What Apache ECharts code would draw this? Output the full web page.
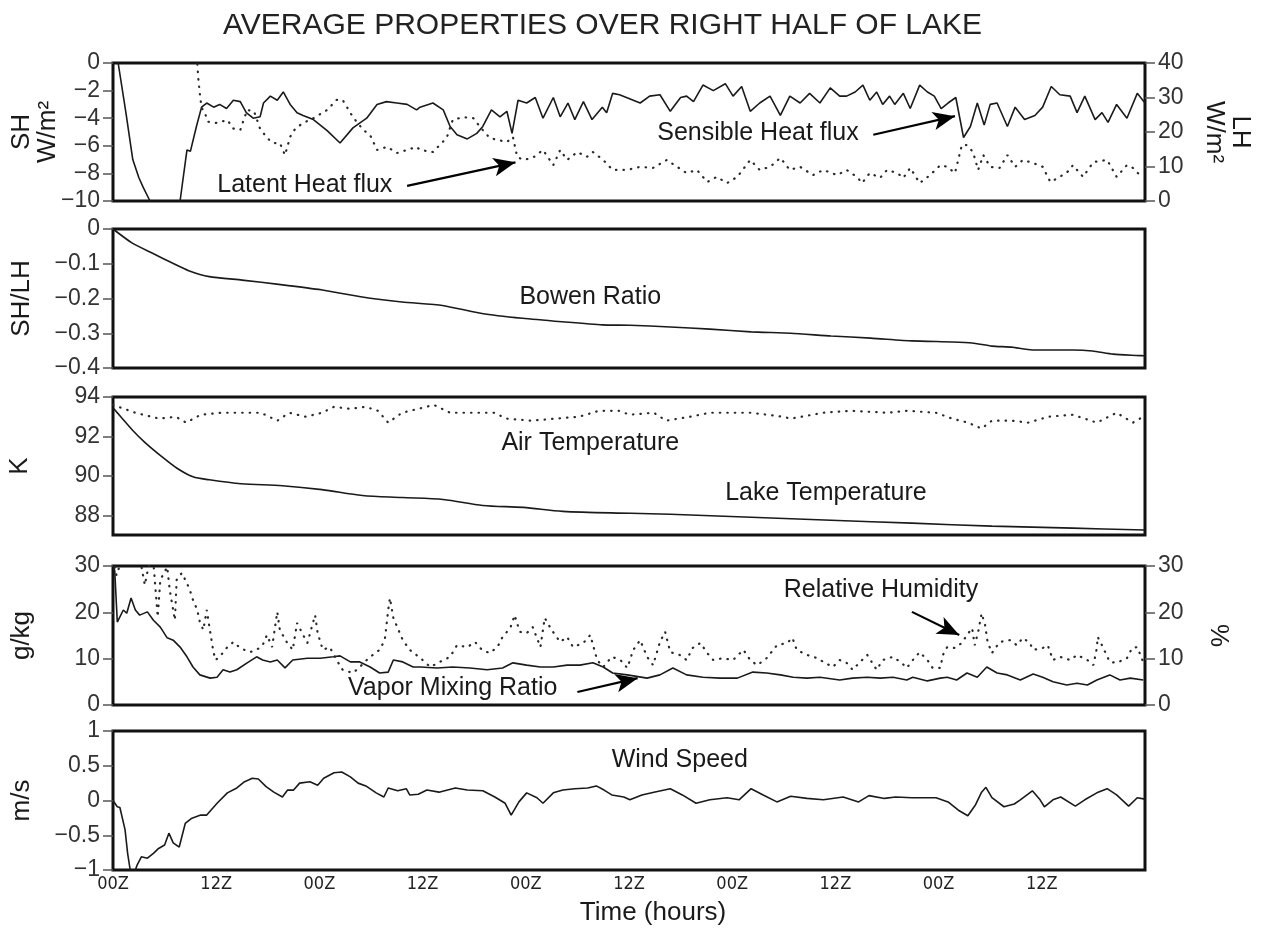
<!DOCTYPE html>
<html>
<head>
<meta charset="utf-8">
<script src="https://cdn.jsdelivr.net/npm/echarts@6/dist/echarts.min.js"></script>
<style>
  html, body { margin: 0; padding: 0; background: #fff; }
  #chart { width: 1261px; height: 936px; }
</style>
</head>
<body>
<div id="chart"></div>
<script>
// Time axis (hours since start), labelled in 12-hour steps
const timeTicks = [0, 12, 24, 36, 48, 60, 72, 84, 96, 108];
const timeTickLabels = ['00Z', '12Z', '00Z', '12Z', '00Z', '12Z', '00Z', '12Z', '00Z', '12Z'];

// Panel 1: sensible heat flux (W/m2, left axis) — [hour, value]
const sensibleHeat = [
  [0, 2.3], [0.6, 0], [1.5, -3.6], [2.3, -7.0], [3.0, -8.3], [3.5, -9.0], [4.3, -10], [6.0, -13],
  [7.8, -10], [8.6, -6.3], [9.0, -6.4], [9.7, -4.6], [10.3, -3.2], [10.9, -2.9], [11.7, -3.2],
  [12.4, -3.0], [13.2, -3.3], [14.0, -2.7], [14.8, -2.8], [15.5, -3.6], [16.3, -4.0], [17.1, -3.9],
  [17.5, -2.9], [18.3, -2.4], [19.1, -2.7], [19.8, -2.1], [20.6, -3.0], [21.4, -3.6], [22.1, -3.8],
  [23.3, -4.1], [24.9, -4.9], [26.4, -5.8], [27.9, -4.7], [29.5, -4.0], [30.7, -3.0], [31.8, -2.8],
  [33.0, -2.9], [34.2, -3.0], [35.3, -3.4], [35.7, -3.2], [37.2, -2.9], [38.4, -3.4], [39.2, -4.6],
  [40.0, -5.2], [41.2, -5.5], [42.3, -5.1], [43.0, -4.6], [44.0, -3.4], [45.0, -3.9], [45.8, -3.5],
  [46.4, -5.1], [47.1, -2.7], [48.1, -2.9], [49.1, -2.5], [50.0, -4.0], [51.2, -2.5], [52.0, -3.9],
  [52.9, -2.9], [53.7, -4.1], [54.7, -2.8], [55.7, -4.1], [56.9, -3.2], [57.4, -3.6], [58.1, -2.2],
  [58.9, -2.3], [60.5, -2.7], [61.3, -2.9], [62.4, -2.4], [63.6, -2.3], [64.8, -3.5], [66.0, -2.5],
  [66.7, -2.4], [67.5, -2.8], [68.6, -1.6], [69.8, -2.0], [71.2, -1.5], [72.1, -2.4], [73.1, -1.7],
  [74.1, -3.5], [75.2, -2.9], [76.4, -2.4], [77.6, -3.8], [78.7, -2.4], [79.9, -2.9], [81.0, -2.2],
  [82.2, -2.9], [83.4, -1.8], [84.5, -2.4], [85.3, -2.4], [86.3, -2.1], [87.2, -1.6], [88.0, -2.7],
  [88.8, -2.1], [89.5, -3.0], [90.3, -2.4], [90.9, -3.0], [91.9, -2.2], [92.7, -3.3], [93.8, -1.6],
  [94.7, -2.1], [95.5, -2.4], [96.3, -3.3], [97.1, -2.9], [98.0, -2.5], [98.9, -5.4], [99.7, -4.6],
  [100.5, -2.9], [101.3, -4.5], [102.0, -3.0], [102.8, -2.9], [104.0, -4.6], [104.9, -3.2], [106.0, -4.1],
  [107.2, -3.8], [108.1, -3.2], [109.1, -1.7], [110.1, -2.3], [111.3, -2.4], [112.1, -3.6], [113.0, -2.4],
  [114.2, -4.1], [115.0, -3.6], [115.7, -4.3], [116.7, -3.0], [117.9, -4.0], [119.1, -2.2], [120, -2.9]
];

// Panel 1: latent heat flux (W/m2, right axis)
const latentHeat = [
  [9.6, 44], [9.8, 40], [9.9, 36], [10.1, 31], [10.3, 27], [10.7, 25.5], [11.0, 23], [12.1, 22.6],
  [13.3, 23.5], [14.0, 21], [14.8, 20.6], [15.6, 26.4], [16.4, 26], [17.1, 21], [17.9, 18.3],
  [18.6, 16.8], [19.4, 16.8], [20.0, 13.3], [20.6, 18.6], [21.2, 21], [22.1, 22.6], [23.3, 24],
  [24.9, 26.4], [26.0, 29.3], [26.7, 29.3], [27.9, 24.3], [29.1, 20.6], [29.9, 19.1], [30.7, 14.8],
  [31.9, 15.7], [33.0, 13.9], [34.2, 14.8], [35.3, 15.7], [35.7, 14.8], [37.2, 14.2], [38.8, 18.3],
  [39.5, 23.5], [40.7, 24.3], [41.9, 24], [42.7, 21.4], [43.8, 18.3], [44.7, 17.7], [45.8, 17.1],
  [46.5, 18.6], [47.0, 12.8], [47.7, 11.9], [48.8, 12.5], [50.0, 14.8], [51.2, 10.4], [52.0, 14.8],
  [52.8, 11.9], [54.0, 14.2], [55.1, 12.8], [55.8, 14.2], [57.0, 11.9], [58.1, 9.0], [59.8, 9.0],
  [61.3, 9.9], [62.8, 9.6], [64.4, 11.9], [65.6, 9.9], [66.7, 8.1], [67.9, 9.0], [69.1, 5.5],
  [70.2, 7.0], [71.4, 5.2], [72.6, 7.0], [74.1, 11.9], [75.2, 9.0], [76.4, 9.9], [77.6, 12.5],
  [78.7, 9.0], [79.9, 9.9], [81.4, 7.5], [82.6, 9.0], [84.2, 7.5], [85.3, 9.0], [86.5, 7.0],
  [87.1, 5.2], [88.0, 8.1], [89.2, 6.7], [90.0, 9.0], [91.2, 8.1], [91.9, 6.7], [92.7, 9.6],
  [93.8, 5.2], [95.0, 7.5], [96.2, 10.4], [97.0, 9.9], [97.9, 8.1], [98.7, 16.2], [99.3, 16.2],
  [100.0, 14.2], [100.6, 9.0], [101.2, 13.3], [102.0, 9.9], [103.1, 9.6], [104.0, 13.3], [104.9, 9.9],
  [105.8, 11.9], [107.0, 11.0], [108.1, 9.9], [109.0, 5.5], [110.1, 7.0], [111.3, 9.0], [111.6, 10.4],
  [112.8, 7.0], [114.0, 11.3], [115.6, 11.9], [116.7, 7.0], [117.9, 10.4], [118.6, 9.6], [119.7, 6.7]
];

// Panel 2: Bowen ratio (SH/LH)
const bowenRatio = [
  [0, 0], [2.2, -0.04], [4.6, -0.07], [6.9, -0.098], [8.8, -0.12], [11.2, -0.137], [15.0, -0.147],
  [19.5, -0.16], [24.2, -0.175], [28.8, -0.195], [33.6, -0.21], [38.3, -0.22], [42.9, -0.243],
  [47.6, -0.257], [52.2, -0.267], [56.9, -0.276], [60.1, -0.277], [64.8, -0.282], [69.4, -0.288],
  [74.2, -0.296], [78.8, -0.3], [83.5, -0.308], [88.1, -0.314], [92.9, -0.322], [97.6, -0.325],
  [99.9, -0.328], [102.2, -0.337], [104.5, -0.34], [106.9, -0.348], [111.6, -0.348], [113.9, -0.351],
  [116.3, -0.36], [120, -0.365]
];

// Panel 3: lake and air temperature (K)
const lakeTemperature = [
  [0, 93.45], [0.9, 93.0], [2.3, 92.3], [3.7, 91.7], [5.6, 91.0], [7.4, 90.4], [9.3, 89.95],
  [11.2, 89.8], [14.9, 89.6], [19.7, 89.5], [24.3, 89.3], [29.0, 89.0], [33.6, 88.9], [38.4, 88.8],
  [43.0, 88.5], [47.7, 88.4], [52.3, 88.2], [60.2, 88.1], [64.8, 88.05], [74.2, 87.9], [83.5, 87.75],
  [92.9, 87.6], [102.2, 87.45], [111.6, 87.35], [120, 87.25]
];
const airTemperature = [
  [0, 93.6], [2.6, 93.2], [5.4, 92.9], [7.3, 93.0], [8.5, 92.7], [10.2, 93.1], [12.5, 93.2],
  [14.9, 93.2], [17.2, 93.2], [19.1, 92.8], [20.5, 93.2], [22.4, 93.0], [24.3, 93.2], [25.7, 93.5],
  [27.5, 93.4], [29.4, 93.5], [30.8, 93.3], [32.0, 92.7], [33.6, 93.2], [35.5, 93.4], [37.3, 93.6],
  [39.2, 93.2], [42.0, 93.2], [44.3, 93.2], [45.8, 92.9], [48.6, 92.8], [51.4, 92.9], [54.2, 93.0],
  [56.5, 93.3], [58.8, 93.3], [60.1, 93.1], [62.9, 93.2], [64.3, 92.8], [67.1, 93.0], [69.4, 93.2],
  [74.2, 93.2], [77.9, 93.0], [78.8, 92.9], [82.6, 93.2], [85.8, 93.3], [90.1, 93.2], [92.4, 93.3],
  [95.7, 93.2], [97.6, 92.9], [99.4, 92.7], [101.0, 92.4], [102.2, 92.8], [104.5, 92.8], [106.4, 92.7],
  [108.8, 93.0], [111.6, 93.1], [114.4, 92.7], [116.7, 93.2], [118.6, 92.7], [119.8, 93.0]
];

// Panel 4: vapor mixing ratio (g/kg, left axis)
const vaporMixingRatio = [
  [0, 30], [0.2, 29], [0.5, 17.9], [1.2, 20.5], [1.6, 19.8], [2.1, 23.1], [2.6, 20.5], [3.1, 19.4],
  [4.0, 20.1], [4.7, 18.3], [5.5, 16.8], [6.3, 14.5], [7.0, 14.0], [7.8, 12.5], [8.6, 10.4], [9.3, 8.2],
  [10.1, 6.5], [11.3, 5.8], [12.1, 6.0], [12.8, 7.6], [13.6, 7.1], [14.4, 7.6], [15.6, 9.1], [16.7, 10.4],
  [17.4, 9.7], [18.3, 9.3], [19.1, 9.7], [20.0, 8.0], [20.9, 9.7], [22.6, 10.1], [24.1, 10.1],
  [25.6, 10.4], [26.4, 10.6], [27.6, 9.3], [28.7, 9.3], [29.9, 8.2], [31.0, 6.9], [32.0, 7.1],
  [32.6, 9.7], [33.7, 9.3], [34.9, 8.2], [35.7, 8.2], [37.7, 8.0], [39.5, 8.2], [41.5, 8.0], [43.5, 7.6],
  [45.3, 8.0], [46.5, 9.1], [48.1, 8.6], [49.7, 8.2], [51.2, 8.2], [52.8, 8.6], [54.3, 8.6], [55.8, 9.1],
  [57.0, 8.2], [58.1, 6.9], [59.8, 6.5], [62.1, 5.8], [63.6, 6.5], [65.1, 8.0], [66.7, 6.5], [68.6, 6.0],
  [70.6, 5.8], [72.6, 5.8], [74.4, 7.1], [76.0, 6.9], [77.6, 6.5], [79.1, 6.0], [80.7, 5.8], [82.2, 6.0],
  [84.5, 5.4], [86.0, 5.8], [87.7, 6.0], [89.2, 5.8], [90.7, 6.0], [92.3, 5.4], [93.0, 6.0], [94.7, 5.2],
  [96.2, 5.8], [97.0, 6.0], [98.1, 5.4], [99.3, 6.9], [100.5, 6.0], [101.6, 8.2], [102.8, 6.9],
  [104.0, 6.5], [105.5, 5.4], [107.0, 6.7], [108.1, 6.0], [109.3, 5.0], [110.9, 4.3], [112.1, 4.7],
  [113.3, 4.3], [114.4, 5.4], [115.9, 6.5], [117.1, 5.4], [118.3, 5.8], [119.8, 5.4]
];

// Panel 4: relative humidity (%, right axis)
const relativeHumidity = [
  [0, 33], [0.4, 28], [1.5, 34], [2.8, 35], [3.7, 25.9], [4.0, 28.7], [4.6, 33], [5.2, 19.0], [5.5, 27],
  [6.3, 29.8], [6.6, 24.8], [7.2, 18.3], [7.4, 27], [8.0, 28.5], [8.6, 26.3], [9.0, 24.4], [9.3, 22.7],
  [9.8, 20.5], [10.1, 17.9], [10.5, 16.2], [10.9, 20.5], [11.3, 15.8], [11.6, 12.3], [11.9, 9.7],
  [12.4, 10.4], [13.3, 12.5], [14.0, 13.6], [14.8, 12.3], [15.9, 11.4], [16.7, 11.9], [17.4, 12.9],
  [17.9, 15.1], [18.5, 12.5], [19.1, 20.1], [19.4, 16.2], [20.2, 13.6], [20.9, 11.9], [21.4, 17.7],
  [22.0, 15.5], [22.6, 13.4], [23.5, 19.4], [23.8, 15.5], [24.4, 11.9], [25.2, 12.5], [26.0, 9.7],
  [26.7, 7.6], [27.9, 6.9], [28.7, 8.2], [29.5, 9.7], [30.2, 10.8], [31.0, 11.9], [31.6, 14.0],
  [32.0, 20.5], [32.2, 23.1], [32.6, 18.8], [33.1, 16.6], [33.7, 14.0], [34.5, 11.9], [35.7, 10.2],
  [36.9, 8.2], [38.0, 9.3], [39.2, 10.4], [40.0, 12.9], [41.2, 12.5], [42.1, 13.6], [42.9, 11.9],
  [43.8, 11.2], [44.7, 12.5], [45.3, 14.7], [46.2, 16.6], [46.7, 19.4], [47.3, 15.8], [48.1, 15.5],
  [48.8, 16.8], [49.7, 12.5], [50.2, 18.8], [51.0, 16.2], [52.0, 13.6], [52.8, 14.7], [53.5, 12.5],
  [54.7, 13.4], [55.5, 15.1], [56.3, 9.7], [57.0, 8.2], [58.0, 10.4], [59.0, 9.7], [59.8, 8.0],
  [60.5, 11.9], [61.3, 14.0], [62.1, 10.4], [62.8, 8.6], [63.6, 13.6], [64.2, 15.8], [64.8, 11.4],
  [65.9, 10.8], [66.7, 9.7], [67.4, 12.3], [68.3, 13.4], [69.1, 11.2], [69.8, 9.7], [70.9, 10.1],
  [72.1, 9.7], [73.3, 11.9], [74.1, 9.7], [74.9, 8.6], [76.0, 10.1], [77.2, 12.9], [78.4, 13.4],
  [79.0, 14.5], [79.5, 11.9], [80.7, 10.8], [81.9, 10.1], [82.8, 9.1], [83.7, 8.2], [84.5, 9.7],
  [85.3, 9.1], [86.0, 7.6], [87.1, 9.7], [87.7, 10.8], [88.8, 7.6], [89.5, 9.7], [90.7, 10.4],
  [91.7, 9.1], [92.3, 8.0], [93.0, 9.7], [93.8, 11.4], [94.7, 9.7], [95.3, 8.0], [96.2, 8.0],
  [96.5, 10.8], [97.0, 12.5], [97.9, 12.3], [98.7, 13.4], [99.3, 15.1], [99.9, 16.6], [100.2, 12.9],
  [100.6, 15.8], [101.0, 19.8], [101.4, 17.3], [101.7, 13.6], [102.2, 11.2], [103.1, 13.6], [104.3, 14.0],
  [105.1, 12.9], [105.8, 14.5], [106.6, 13.4], [107.0, 11.9], [108.1, 12.3], [108.7, 12.9], [109.3, 9.7],
  [110.1, 10.4], [111.3, 9.7], [112.1, 10.8], [113.3, 9.7], [114.0, 8.6], [114.4, 12.3], [114.5, 14.7],
  [115.1, 12.5], [115.9, 9.3], [116.7, 9.1], [117.9, 10.1], [118.5, 12.3], [119.1, 12.5], [119.7, 9.7]
];

// Panel 5: wind speed (m/s)
const windSpeed = [
  [0, 0], [0.5, -0.09], [0.8, -0.1], [1.4, -0.42], [1.7, -0.76], [2.0, -1.0], [2.3, -1.1], [2.6, -1.0],
  [2.8, -0.93], [3.3, -0.81], [4.0, -0.83], [4.7, -0.76], [5.3, -0.69], [6.0, -0.64], [6.5, -0.47],
  [7.0, -0.61], [7.7, -0.67], [8.4, -0.33], [9.1, -0.26], [10.2, -0.21], [10.9, -0.21], [12.1, -0.04],
  [13.3, 0.11], [14.4, 0.18], [15.3, 0.27], [16.2, 0.32], [16.9, 0.31], [17.8, 0.2], [18.7, 0.12],
  [19.7, 0.05], [20.3, 0.15], [21.0, 0.15], [21.7, 0.25], [22.9, 0.27], [23.8, 0.22], [24.5, 0.32],
  [25.7, 0.4], [26.6, 0.41], [27.6, 0.34], [28.5, 0.25], [29.4, 0.21], [30.6, 0.11], [31.5, 0.05],
  [32.0, 0.18], [33.1, 0.14], [34.1, 0.17], [34.5, 0.08], [35.5, 0.09], [36.5, 0.15], [37.9, 0.12],
  [39.8, 0.18], [41.2, 0.15], [43.0, 0.14], [44.4, 0.05], [45.6, -0.04], [46.3, -0.21], [47.2, -0.02],
  [48.1, 0.11], [49.3, 0.04], [50.0, -0.04], [51.2, 0.11], [52.3, 0.15], [53.7, 0.17], [55.2, 0.18],
  [56.2, 0.21], [57.1, 0.15], [58.0, 0.08], [59.4, 0.05], [60.1, 0.01], [61.5, 0.08], [62.9, 0.12],
  [64.8, 0.17], [66.2, 0.08], [67.8, -0.04], [69.4, 0.01], [71.4, 0.04], [72.8, 0.01], [74.2, 0.17],
  [75.6, 0.08], [77.2, -0.02], [78.8, 0.06], [80.7, 0.03], [82.6, 0.01], [84.9, 0.05], [86.7, -0.02],
  [87.9, 0.07], [89.7, 0.03], [91.0, 0.05], [92.9, 0.04], [95.7, 0.04], [97.1, -0.02], [98.3, -0.14],
  [99.4, -0.22], [100.3, -0.06], [101.0, 0.12], [101.5, 0.19], [102.2, 0.04], [103.6, -0.09],
  [104.8, -0.05], [105.5, 0.01], [106.9, 0.14], [107.8, 0.01], [108.3, -0.09], [109.3, 0.01],
  [110.2, 0.05], [111.9, -0.08], [113.0, 0.01], [114.4, 0.11], [115.6, 0.17], [116.7, 0.08],
  [118.1, -0.08], [119.1, 0.04], [120, 0.02]
];

const FONT = "'Liberation Sans', Arial, Helvetica, sans-serif";
const NARROW = "'Liberation Sans Narrow', 'DejaVu Sans Condensed', 'Liberation Sans', sans-serif";
const INK = '#1a1a1a';
const minusSign = v => String(v).replace('-', '\u2212');

const gridTops = [63, 229, 397, 566, 731];
const gridHeights = [138, 139, 138, 139, 139];

// Fixed plot frames: keep each panel box exactly where it is placed
const grids = gridTops.map((top, i) => ({
  left: 113, right: 116, top: top, height: gridHeights[i],
  outerBoundsMode: 'none', containLabel: false,
  show: true, borderColor: '#111', borderWidth: 3, backgroundColor: 'transparent'
}));

const xAxes = gridTops.map((_, i) => {
  const bottom = i === gridTops.length - 1;
  return {
    type: 'value', gridIndex: i, min: 0, max: 120, interval: 12,
    axisLine: { show: false }, splitLine: { show: false },
    axisTick: { show: false },
    axisLabel: bottom ? {
      show: true, margin: 5, color: '#222', fontSize: 18, fontFamily: NARROW,
      formatter: v => { const k = timeTicks.indexOf(v); return k >= 0 ? timeTickLabels[k] : ''; }
    } : { show: false },
    name: bottom ? 'Time (hours)' : '',
    nameLocation: 'middle', nameGap: 30, nameMoveOverlap: false,
    nameTextStyle: { fontSize: 26, fontFamily: FONT, color: INK, padding: [0, 0, 0, 48] }
  };
});

const tickStyle = { show: true, length: 10, lineStyle: { color: '#555', width: 1.5 } };
const labelStyle = { margin: 13, color: '#333', fontSize: 23, fontFamily: FONT, formatter: minusSign };

function yAxis(grid, opts) {
  const right = opts.position === 'right';
  return Object.assign({
    type: 'value', gridIndex: grid, position: right ? 'right' : 'left',
    axisLine: { show: false }, splitLine: { show: false },
    axisTick: tickStyle,
    axisLabel: labelStyle,
    nameLocation: 'middle', nameRotate: right ? -90 : 90, nameMoveOverlap: false,
    nameTextStyle: { fontSize: 26, fontFamily: FONT, color: INK, lineHeight: 26 }
  }, opts);
}

const tempTicks = [88, 90, 92, 94];

const yAxes = [
  yAxis(0, { min: -10, max: 0, interval: 2, name: 'SH\nW/m\u00b2', nameGap: 52 }),
  yAxis(0, { position: 'right', min: 0, max: 40, interval: 10, name: 'LH\nW/m\u00b2', nameGap: 56 }),
  yAxis(1, { min: -0.4, max: 0, interval: 0.1, name: 'SH/LH', nameGap: 78 }),
  yAxis(2, { min: 87, max: 94, name: 'K', nameGap: 80,
    axisTick: Object.assign({}, tickStyle, { customValues: tempTicks }),
    axisLabel: Object.assign({}, labelStyle, { customValues: tempTicks }) }),
  yAxis(3, { min: 0, max: 30, interval: 10, name: 'g/kg', nameGap: 78 }),
  yAxis(3, { position: 'right', min: 0, max: 30, interval: 10, name: '%', nameGap: 60 }),
  yAxis(4, { min: -1, max: 1, interval: 0.5, name: 'm/s', nameGap: 78 })
];

const solid = { color: INK, width: 1.6 };
const dotted = { color: '#2a2a2a', width: 2.2, type: [0.5, 7], cap: 'round' };

function note(text, coord) {
  return {
    coord: coord, symbol: 'circle', symbolSize: 1,
    itemStyle: { color: 'rgba(0,0,0,0)' },
    label: { show: true, position: 'inside', formatter: text, color: INK, fontSize: 25, fontFamily: FONT }
  };
}
function arrow(from, to) {
  return [{ coord: from }, { coord: to }];
}
const arrowStyle = {
  silent: true, symbol: ['none', 'arrow'], symbolSize: [14, 22],
  lineStyle: { color: '#000', width: 2.2, type: 'solid' }, label: { show: false }
};

function line(name, data, xi, yi, style, extra) {
  return Object.assign({
    type: 'line', name: name, data: data, xAxisIndex: xi, yAxisIndex: yi,
    showSymbol: false, symbol: 'none', lineStyle: style, clip: true, z: 3
  }, extra || {});
}

const series = [
  line('Sensible Heat flux', sensibleHeat, 0, 0, solid, {
    markPoint: { silent: true, data: [note('Latent Heat flux', [22.3, -8.84]), note('Sensible Heat flux', [75.0, -5.07])] },
    markLine: Object.assign({ data: [arrow([34.2, -8.9], [46.8, -7.2]), arrow([88.4, -5.2], [97.9, -3.85])] }, arrowStyle)
  }),
  line('Latent Heat flux', latentHeat, 0, 1, dotted),
  line('Bowen Ratio', bowenRatio, 1, 2, solid, {
    smooth: 0.2,
    markPoint: { silent: true, data: [note('Bowen Ratio', [55.5, -0.196])] }
  }),
  line('Lake Temperature', lakeTemperature, 2, 3, solid, {
    smooth: 0.3,
    markPoint: { silent: true, data: [note('Air Temperature', [55.5, 91.66]), note('Lake Temperature', [82.9, 89.13])] }
  }),
  line('Air Temperature', airTemperature, 2, 3, dotted),
  line('Vapor Mixing Ratio', vaporMixingRatio, 3, 4, solid, {
    markPoint: { silent: true, data: [note('Vapor Mixing Ratio', [39.5, 3.67]), note('Relative Humidity', [89.3, 24.8])] },
    markLine: Object.assign({ data: [arrow([54.0, 2.8], [61.0, 5.8]), arrow([92.9, 20.1], [98.4, 15.1])] }, arrowStyle)
  }),
  line('Relative Humidity', relativeHumidity, 3, 5, dotted),
  line('Wind Speed', windSpeed, 4, 6, solid, {
    markPoint: { silent: true, data: [note('Wind Speed', [65.9, 0.58])] }
  })
];

const chart = echarts.init(document.getElementById('chart'), null, { renderer: 'canvas' });
chart.setOption({
  animation: false,
  backgroundColor: '#fff',
  title: {
    text: 'AVERAGE PROPERTIES OVER RIGHT HALF OF LAKE',
    left: 218, top: 6,
    textStyle: { fontSize: 30, fontWeight: 'normal', fontFamily: FONT, color: '#222' }
  },
  grid: grids,
  xAxis: xAxes,
  yAxis: yAxes,
  series: series
});
</script>
</body>
</html>
